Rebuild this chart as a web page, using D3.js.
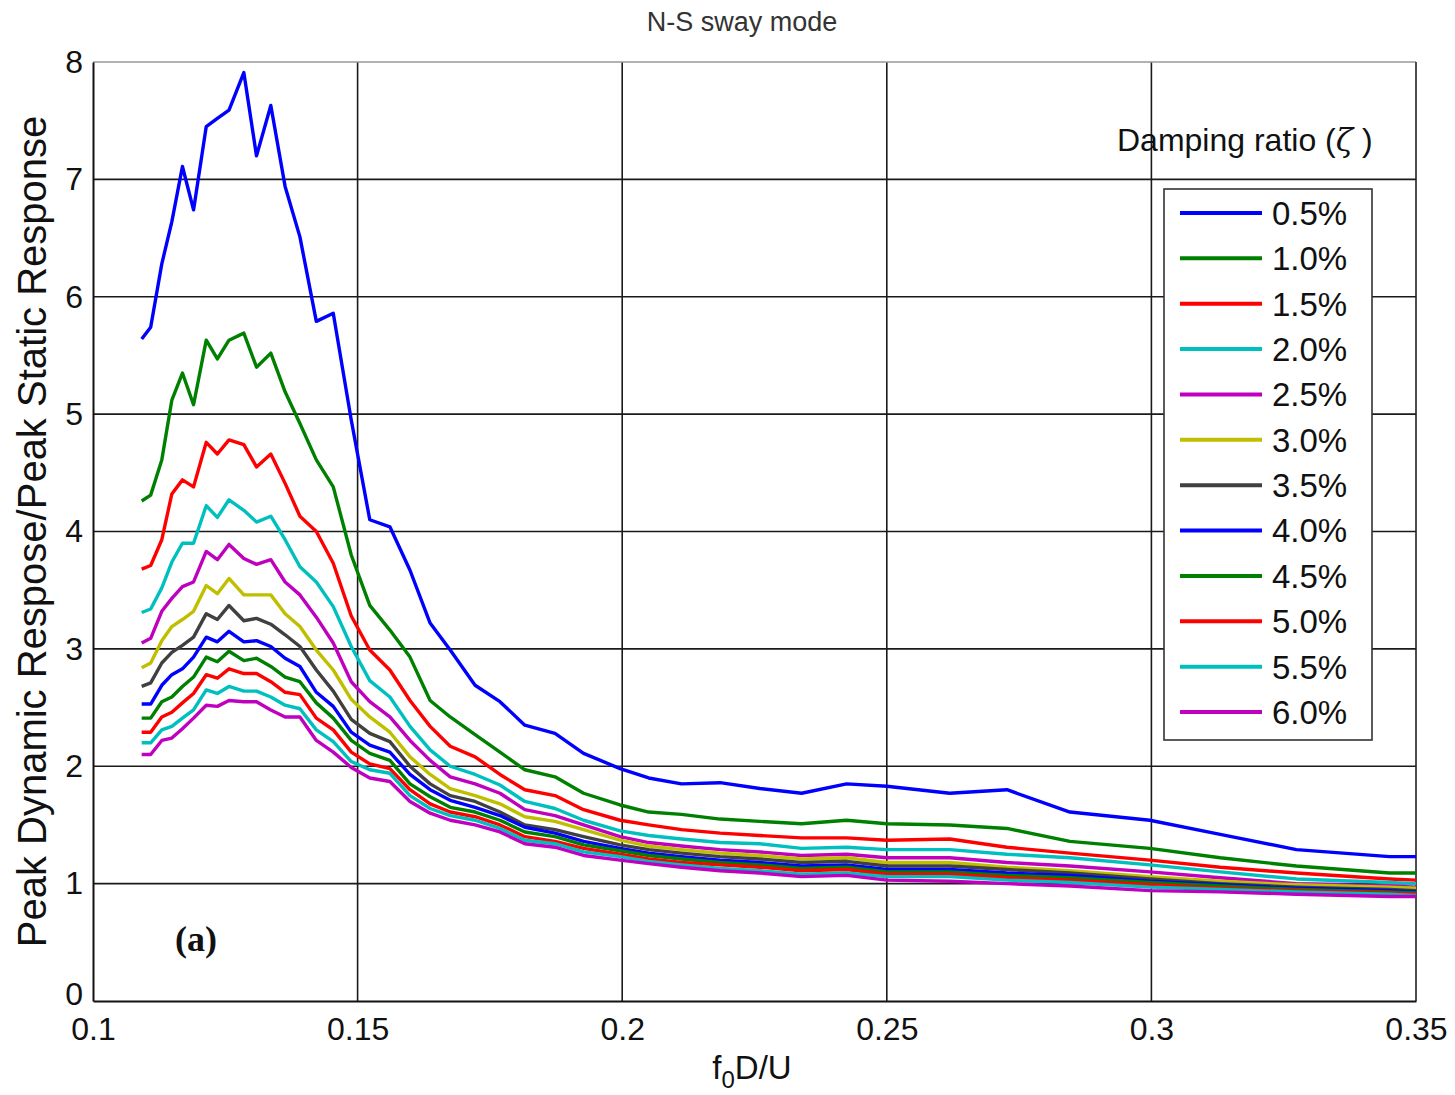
<!DOCTYPE html>
<html>
<head>
<meta charset="utf-8">
<script src="https://cdn.jsdelivr.net/npm/d3@7"></script>
<style>
  body { margin: 0; background: #fff; }
  svg { display: block; font-family: "Liberation Sans", Arial, sans-serif; }
</style>
</head>
<body>
<svg id="chart"></svg>
<script>
// x values (f0D/U) shared by every damping curve
const fD = [0.1092, 0.1109, 0.1130, 0.1149, 0.1169, 0.1190, 0.1214, 0.1235, 0.1257, 0.1285,
  0.1309, 0.1336, 0.1363, 0.1391, 0.1422, 0.1454, 0.1488, 0.1523, 0.1561, 0.1599,
  0.1637, 0.1675, 0.1722, 0.1769, 0.1816, 0.1873, 0.1927, 0.1996, 0.2050, 0.2112,
  0.2185, 0.2260, 0.2339, 0.2424, 0.2500, 0.2619, 0.2727, 0.2846, 0.2997, 0.3130,
  0.3274, 0.3450, 0.3500];

// peak dynamic / peak static response, one array per damping ratio
const z05 = [5.64, 5.74, 6.28, 6.64, 7.11, 6.74, 7.45, 7.52, 7.59, 7.91, 7.20, 7.63, 6.94, 6.51, 5.79, 5.86, 4.95, 4.10, 4.04, 3.67, 3.22, 2.99, 2.69, 2.55, 2.35, 2.28, 2.11, 1.98, 1.90, 1.85, 1.86, 1.81, 1.77, 1.85, 1.83, 1.77, 1.80, 1.61, 1.54, 1.42, 1.29, 1.23, 1.23];
const z10 = [4.26, 4.31, 4.61, 5.12, 5.35, 5.08, 5.63, 5.47, 5.63, 5.69, 5.40, 5.52, 5.19, 4.92, 4.61, 4.38, 3.80, 3.37, 3.16, 2.93, 2.56, 2.42, 2.27, 2.12, 1.97, 1.91, 1.77, 1.67, 1.61, 1.59, 1.55, 1.53, 1.51, 1.54, 1.51, 1.50, 1.47, 1.36, 1.30, 1.22, 1.15, 1.09, 1.09];
const z15 = [3.68, 3.71, 3.93, 4.32, 4.44, 4.38, 4.76, 4.66, 4.78, 4.74, 4.55, 4.66, 4.41, 4.13, 4.00, 3.73, 3.28, 2.99, 2.82, 2.56, 2.34, 2.17, 2.08, 1.93, 1.80, 1.75, 1.63, 1.54, 1.50, 1.46, 1.43, 1.41, 1.39, 1.39, 1.37, 1.38, 1.31, 1.26, 1.20, 1.14, 1.09, 1.04, 1.03];
const z20 = [3.31, 3.34, 3.52, 3.74, 3.90, 3.90, 4.22, 4.12, 4.27, 4.18, 4.08, 4.13, 3.93, 3.70, 3.57, 3.36, 3.02, 2.73, 2.59, 2.34, 2.14, 2.00, 1.93, 1.84, 1.70, 1.64, 1.54, 1.45, 1.41, 1.38, 1.35, 1.34, 1.30, 1.31, 1.29, 1.29, 1.25, 1.22, 1.16, 1.10, 1.04, 1.01, 1.00];
const z25 = [3.05, 3.09, 3.32, 3.43, 3.53, 3.57, 3.83, 3.76, 3.89, 3.77, 3.72, 3.76, 3.57, 3.46, 3.27, 3.05, 2.72, 2.55, 2.42, 2.22, 2.05, 1.91, 1.85, 1.77, 1.63, 1.58, 1.50, 1.40, 1.35, 1.32, 1.29, 1.27, 1.24, 1.25, 1.22, 1.22, 1.18, 1.15, 1.10, 1.05, 1.00, 0.98, 0.97];
const z30 = [2.84, 2.88, 3.07, 3.19, 3.25, 3.32, 3.54, 3.47, 3.60, 3.46, 3.46, 3.46, 3.30, 3.19, 2.99, 2.82, 2.57, 2.42, 2.29, 2.08, 1.93, 1.81, 1.75, 1.68, 1.57, 1.53, 1.46, 1.37, 1.32, 1.29, 1.26, 1.24, 1.21, 1.22, 1.18, 1.18, 1.14, 1.11, 1.06, 1.02, 0.99, 0.97, 0.96];
const z35 = [2.68, 2.71, 2.88, 2.97, 3.03, 3.10, 3.30, 3.25, 3.37, 3.24, 3.26, 3.21, 3.12, 3.02, 2.82, 2.64, 2.40, 2.28, 2.21, 2.00, 1.85, 1.75, 1.70, 1.61, 1.50, 1.46, 1.40, 1.33, 1.29, 1.26, 1.23, 1.21, 1.18, 1.19, 1.15, 1.15, 1.12, 1.09, 1.04, 1.00, 0.97, 0.95, 0.94];
const z40 = [2.53, 2.53, 2.69, 2.78, 2.83, 2.93, 3.10, 3.06, 3.15, 3.06, 3.07, 3.02, 2.92, 2.85, 2.63, 2.51, 2.29, 2.18, 2.12, 1.93, 1.80, 1.71, 1.65, 1.58, 1.48, 1.43, 1.36, 1.30, 1.26, 1.23, 1.20, 1.18, 1.15, 1.16, 1.12, 1.12, 1.09, 1.07, 1.02, 0.99, 0.96, 0.94, 0.93];
const z45 = [2.41, 2.41, 2.55, 2.59, 2.68, 2.76, 2.93, 2.89, 2.98, 2.90, 2.92, 2.85, 2.76, 2.72, 2.54, 2.41, 2.22, 2.11, 2.05, 1.85, 1.74, 1.65, 1.61, 1.54, 1.44, 1.40, 1.33, 1.28, 1.24, 1.21, 1.18, 1.16, 1.13, 1.14, 1.10, 1.10, 1.07, 1.05, 1.01, 0.98, 0.95, 0.93, 0.92];
const z50 = [2.29, 2.29, 2.42, 2.46, 2.54, 2.62, 2.78, 2.75, 2.83, 2.79, 2.79, 2.72, 2.63, 2.61, 2.41, 2.31, 2.12, 2.02, 1.98, 1.80, 1.68, 1.61, 1.57, 1.50, 1.40, 1.36, 1.30, 1.25, 1.21, 1.18, 1.16, 1.14, 1.11, 1.12, 1.08, 1.08, 1.05, 1.03, 0.99, 0.96, 0.94, 0.92, 0.91];
const z55 = [2.20, 2.20, 2.31, 2.34, 2.41, 2.48, 2.65, 2.62, 2.68, 2.64, 2.64, 2.59, 2.52, 2.49, 2.31, 2.21, 2.04, 1.97, 1.94, 1.75, 1.64, 1.58, 1.54, 1.47, 1.37, 1.34, 1.27, 1.23, 1.19, 1.16, 1.13, 1.11, 1.08, 1.09, 1.06, 1.06, 1.03, 1.01, 0.97, 0.95, 0.93, 0.91, 0.90];
const z60 = [2.10, 2.10, 2.22, 2.24, 2.32, 2.41, 2.52, 2.51, 2.56, 2.55, 2.55, 2.48, 2.42, 2.42, 2.22, 2.12, 1.99, 1.90, 1.87, 1.70, 1.60, 1.54, 1.50, 1.44, 1.34, 1.31, 1.24, 1.20, 1.17, 1.14, 1.11, 1.09, 1.06, 1.07, 1.03, 1.02, 1.00, 0.98, 0.94, 0.93, 0.91, 0.89, 0.89];

const dampingLabels = ["0.5%", "1.0%", "1.5%", "2.0%", "2.5%", "3.0%", "3.5%", "4.0%", "4.5%", "5.0%", "5.5%", "6.0%"];
const seriesValues = [z05, z10, z15, z20, z25, z30, z35, z40, z45, z50, z55, z60];
const lineColors = ["#0000ff", "#008000", "#ff0000", "#00bfbf", "#bf00bf", "#bfbf00", "#404040",
  "#0000ff", "#008000", "#ff0000", "#00bfbf", "#bf00bf"];

const xTicks = [0.1, 0.15, 0.2, 0.25, 0.3, 0.35];
const yTicks = [0, 1, 2, 3, 4, 5, 6, 7, 8];

(function () {
  const width = 1455, height = 1095;
  const plot = { left: 93, right: 1416, top: 62, bottom: 1001 };

  const svg = d3.select("#chart").attr("width", width).attr("height", height);

  const x = d3.scaleLinear().domain([0.1, 0.35]).range([plot.left, plot.right]);
  const y = d3.scaleLinear().domain([0, 8]).range([plot.bottom, plot.top]);

  // clip for the curves
  svg.append("defs").append("clipPath").attr("id", "plotClip")
    .append("rect")
    .attr("x", plot.left).attr("y", plot.top)
    .attr("width", plot.right - plot.left).attr("height", plot.bottom - plot.top);

  // Grid lines
  const grid = svg.append("g").attr("class", "grid");
  grid.selectAll("line.v")
    .data(xTicks.slice(1, -1))
    .join("line")
    .attr("class", "v")
    .attr("x1", d => x(d)).attr("x2", d => x(d))
    .attr("y1", plot.top).attr("y2", plot.bottom)
    .attr("stroke", "#1a1a1a").attr("stroke-width", 1.6);
  grid.selectAll("line.h")
    .data(yTicks.slice(1, -1))
    .join("line")
    .attr("class", "h")
    .attr("x1", plot.left).attr("x2", plot.right)
    .attr("y1", d => y(d)).attr("y2", d => y(d))
    .attr("stroke", "#1a1a1a").attr("stroke-width", 1.6);

  // Axes box
  svg.append("line")
    .attr("x1", plot.left).attr("x2", plot.right)
    .attr("y1", plot.top).attr("y2", plot.top)
    .attr("stroke", "#999").attr("stroke-width", 1.6);
  svg.append("line")
    .attr("x1", plot.right).attr("x2", plot.right)
    .attr("y1", plot.top).attr("y2", plot.bottom)
    .attr("stroke", "#222").attr("stroke-width", 1.6);

  // Axes (ticks hidden, labels only)
  const xAxis = svg.append("g")
    .attr("transform", `translate(0,${plot.bottom})`)
    .call(d3.axisBottom(x).tickValues(xTicks).tickSize(0).tickPadding(16).tickFormat(d3.format("")));
  const yAxis = svg.append("g")
    .attr("transform", `translate(${plot.left},0)`)
    .call(d3.axisLeft(y).tickValues(yTicks).tickSize(0).tickPadding(10).tickFormat(d3.format("d")));

  [xAxis, yAxis].forEach(ax => {
    ax.select(".domain").attr("stroke", "#111").attr("stroke-width", 2);
    ax.selectAll("text")
      .attr("font-family", "'Liberation Sans', Arial, sans-serif")
      .attr("font-size", 32)
      .attr("fill", "#111");
  });
  // lift the "0" a little so it clears "0.1", as in the original
  yAxis.selectAll(".tick text").filter(d => d === 0).attr("dy", "0.1em");

  // Draw curves
  const line = d3.line()
    .x((d, i) => x(fD[i]))
    .y(d => y(d));

  svg.append("g")
    .attr("clip-path", "url(#plotClip)")
    .selectAll("path")
    .data(seriesValues)
    .join("path")
    .attr("d", d => line(d))
    .attr("fill", "none")
    .attr("stroke", (d, i) => lineColors[i])
    .attr("stroke-width", 3.4)
    .attr("stroke-linejoin", "round");

  // Title
  svg.append("text")
    .attr("x", 742).attr("y", 31)
    .attr("text-anchor", "middle")
    .attr("font-size", 27)
    .attr("fill", "#333")
    .text("N-S sway mode");

  // Y label
  svg.append("text")
    .attr("transform", `translate(46,${(plot.top + plot.bottom) / 2}) rotate(-90)`)
    .attr("text-anchor", "middle")
    .attr("font-size", 40)
    .attr("fill", "#111")
    .text("Peak Dynamic Respose/Peak Static Response");

  // X label with subscript
  const xl = svg.append("text")
    .attr("x", 752).attr("y", 1079)
    .attr("text-anchor", "middle")
    .attr("font-size", 33)
    .attr("fill", "#111");
  xl.append("tspan").text("f");
  xl.append("tspan").attr("dy", 9).attr("font-size", 24).text("0");
  xl.append("tspan").attr("dy", -9).text("D/U");

  // Panel tag
  svg.append("text")
    .attr("x", 175).attr("y", 951)
    .attr("font-family", "'Liberation Serif', 'Times New Roman', serif")
    .attr("font-weight", "bold")
    .attr("font-size", 36)
    .attr("fill", "#111")
    .text("(a)");

  // Legend title
  const lt = svg.append("text")
    .attr("x", 1117).attr("y", 151)
    .attr("font-size", 32)
    .attr("fill", "#111");
  lt.append("tspan").text("Damping ratio (");
  lt.append("tspan").attr("font-style", "italic").attr("font-family", "'DejaVu Serif', serif").text("ζ");
  lt.append("tspan").text(" )");

  // Legend
  const legend = svg.append("g");
  legend.append("rect")
    .attr("x", 1164).attr("y", 189)
    .attr("width", 208).attr("height", 551)
    .attr("fill", "#fff")
    .attr("stroke", "#333").attr("stroke-width", 1.6);

  const ly = d3.scalePoint().domain(dampingLabels).range([213, 712]);
  const items = legend.selectAll("g.item")
    .data(dampingLabels)
    .join("g")
    .attr("class", "item")
    .attr("transform", d => `translate(0,${ly(d)})`);
  items.append("line")
    .attr("x1", 1180).attr("x2", 1262)
    .attr("stroke", (d, i) => lineColors[i])
    .attr("stroke-width", 4);
  items.append("text")
    .attr("x", 1272).attr("dy", "0.36em")
    .attr("font-size", 33)
    .attr("fill", "#111")
    .text(d => d);
})();
</script>
</body>
</html>
